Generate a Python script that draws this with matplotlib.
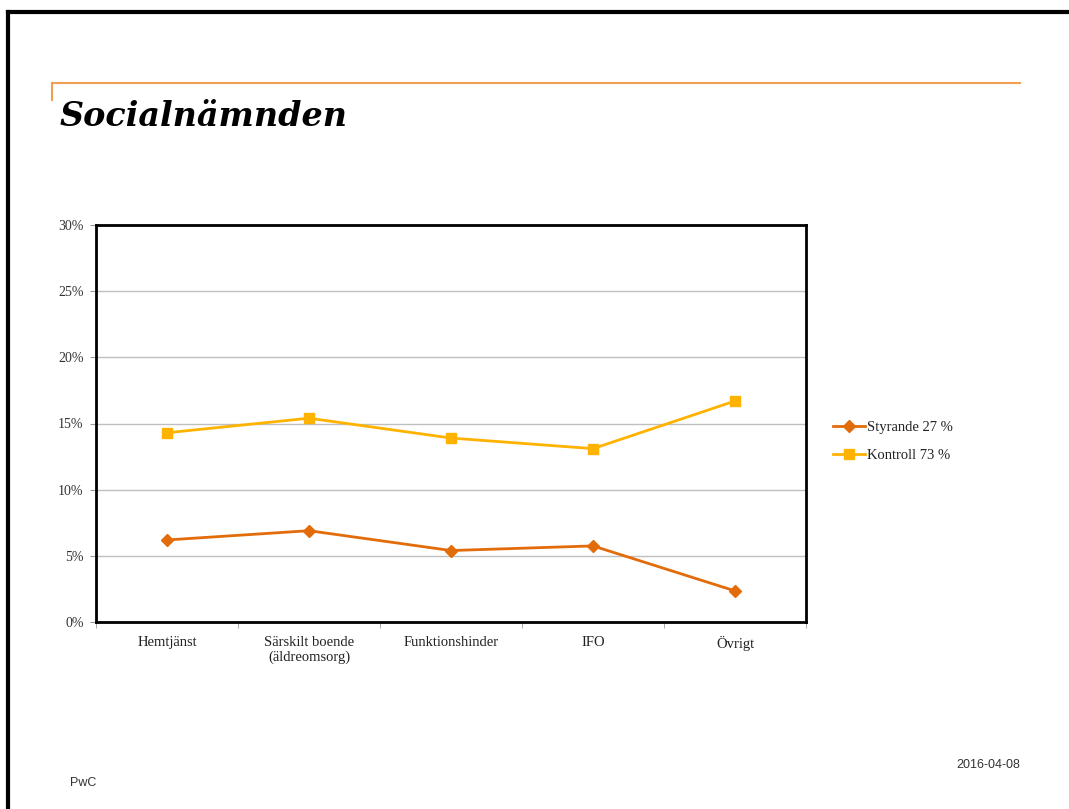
import matplotlib.pyplot as plt
from matplotlib.lines import Line2D
from matplotlib.ticker import FuncFormatter

# Andel per verksamhetsområde (procent)
categories = ["Hemtjänst", "Särskilt boende\n(äldreomsorg)", "Funktionshinder", "IFO", "Övrigt"]
styrande = [6.2, 6.9, 5.4, 5.75, 2.35]
kontroll = [14.3, 15.4, 13.9, 13.1, 16.7]
series_labels = ["Styrande 27 %", "Kontroll 73 %"]
y_ticks = [0, 5, 10, 15, 20, 25, 30]

orange = "#E36C0A"
yellow = "#FFB300"
serif = ["Liberation Serif", "DejaVu Serif"]

fig = plt.figure(figsize=(10.69, 8.09), dpi=100)

# Slide frame and title rule
fig.add_artist(Line2D([8 / 1069, 1], [1 - 12 / 809] * 2, color="black", lw=3))
fig.add_artist(Line2D([8 / 1069] * 2, [0, 1 - 12 / 809], color="black", lw=3))
fig.add_artist(Line2D([52 / 1069, 1020 / 1069], [1 - 83 / 809] * 2, color="#F0A050", lw=1.5))
fig.add_artist(Line2D([52 / 1069] * 2, [1 - 83 / 809, 1 - 100 / 809], color="#F0A050", lw=1.5))

fig.text(60 / 1069, 1 - 116 / 809, "Socialnämnden", fontsize=24, fontweight="bold",
         fontstyle="italic", family=["DejaVu Serif"], va="center", ha="left")
fig.text(70 / 1069, 1 - 783 / 809, "PwC", fontsize=9, family=["Liberation Sans"],
         color="#333333", va="center")
fig.text(1020 / 1069, 1 - 765 / 809, "2016-04-08", fontsize=9, family=["Liberation Sans"],
         color="#333333", va="center", ha="right")

ax = fig.add_axes([96 / 1069, 1 - 622 / 809, 710 / 1069, 397 / 809])
x = list(range(len(categories)))
ax.plot(x, styrande, color=orange, lw=2, marker="D", markersize=6, label=series_labels[0])
ax.plot(x, kontroll, color=yellow, lw=2, marker="s", markersize=7, label=series_labels[1])

ax.set_xlim(-0.5, len(categories) - 0.5)
ax.set_ylim(0, 30)
ax.set_yticks(y_ticks)
ax.yaxis.set_major_formatter(FuncFormatter(lambda v, _: f"{v:.0f}%"))
ax.grid(axis="y", color="#BFBFBF", lw=1)
ax.set_axisbelow(True)

ax.set_xticks(x)
ax.set_xticklabels(categories, family=serif, fontsize=10.5, color="#222222")
ax.set_xticks([i + 0.5 for i in range(-1, len(categories))], minor=True)
ax.tick_params(axis="x", which="major", length=0, pad=10)
ax.tick_params(axis="x", which="minor", length=4, color="#999999")
ax.tick_params(axis="y", length=4, color="#999999", pad=5)
for lbl in ax.get_yticklabels():
    lbl.set_family(serif)
    lbl.set_fontsize(10)
    lbl.set_color("#333333")

for s in ax.spines.values():
    s.set_linewidth(2)
    s.set_color("black")

ax.legend(loc="center left", bbox_to_anchor=(1.02, 0.455), frameon=False,
          prop={"family": serif, "size": 10.5}, handlelength=2.2, handletextpad=0.1,
          labelspacing=1.0, labelcolor="#222222")

fig.savefig("out.png", dpi=100, facecolor="white")
